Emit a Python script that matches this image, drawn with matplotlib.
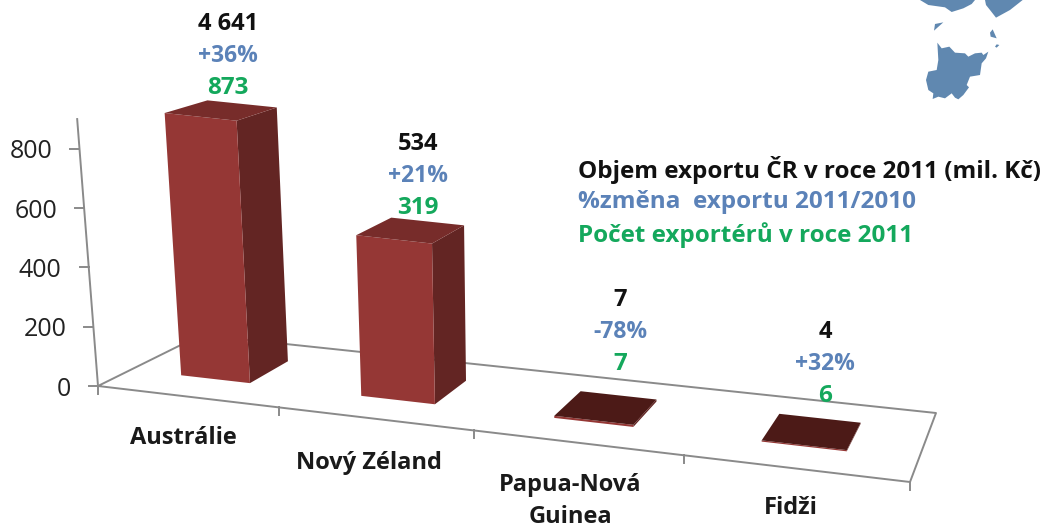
import numpy as np
import matplotlib
matplotlib.use('Agg')
import matplotlib.pyplot as plt
from matplotlib.patches import Polygon

# data
categories = ['Austrálie', 'Nový Zéland', 'Papua-Nová\nGuinea', 'Fidži']
bar_values = [873, 534, 7, 4]
export_labels = ['4 641', '534', '7', '4']
change_labels = ['+36%', '+21%', '-78%', '+32%']
exporter_labels = ['873', '319', '7', '6']
y_ticks = [0, 200, 400, 600, 800]
y_max = 900
legend_lines = ['Objem exportu ČR v roce 2011 (mil. Kč)',
                '%změna  exportu 2011/2010',
                'Počet exportérů v roce 2011']

# layout (pixels of the picture)
label_x = [228, 418, 620, 825]
label_y = [24, 144, 300, 332]
cat_xy = [(183, 438), (369, 463), (570, 501), (791, 508)]
top_colors = ['#772c2a', '#772c2a', '#4c1a17', '#4c1a17']

BLACK = '#111111'
BLUE = '#5b82b8'
GREEN = '#14a85c'
GREY = '#8a8a8a'
FONT = 'Open Sans'

# blue bits of the map in the corner
map_parts = [
    [(112,128),(125,145),(148,140),(165,158),(195,160),(205,170),(225,160),(245,158),(250,165),(265,155),
     (258,175),(245,190),(240,225),(210,230),(200,255),(207,262),(190,285),(175,298),(165,293),(155,280),
     (135,295),(115,290),(98,297),(100,280),(85,270),(78,240),(85,215),(110,210),(115,180)],
    [(60,0),(225,0),(215,12),(190,25),(155,36),(135,22),(85,15)],
    [(255,0),(368,0),(330,30),(288,53),(270,30),(258,15)],
    [(105,72),(130,67),(102,92)],
    [(278,88),(290,115),(272,110),(270,98)],
    [(290,133),(298,135),(290,143),(285,140)],
]

# floor corners for the fake 3d: (category pos, depth) -> pixel
floor_src = [(0, 0), (4, 0), (4, 1), (0, 1)]
floor_dst = [(98, 386), (910, 482), (936, 413), (201, 335)]
vanish = (536, 6000)
AXIS_K = 0.2975  # pixels per unit on the y axis
K_FRONT = 0.301
K_BACK = 0.291


def solve_homography(src, dst):
    a = []
    b = []
    for (u, v), (x, y) in zip(src, dst):
        a.append([u, v, 1, 0, 0, 0, -u * x, -v * x])
        a.append([0, 0, 0, u, v, 1, -u * y, -v * y])
        b += [x, y]
    h = np.linalg.solve(np.array(a, float), np.array(b, float))
    return np.append(h, 1).reshape(3, 3)


H = solve_homography(floor_src, floor_dst)


def project(u, d, value=0, k=AXIS_K):
    p = H @ np.array([u, d, 1.0])
    x, y = p[0] / p[2], p[1] / p[2]
    # bars lean a bit towards the vanishing point below the chart
    lift = value * k
    dirx, diry = x - vanish[0], y - vanish[1]
    n = np.hypot(dirx, diry)
    return x + lift * dirx / n, y + lift * diry / n


fig = plt.figure(figsize=(10.51, 5.28), dpi=100)
ax = fig.add_axes([0, 0, 1, 1])
ax.set_xlim(0, 1051)
ax.set_ylim(528, 0)
ax.axis('off')

# floor
outline = [project(*c) for c in floor_src]
outline.append(outline[0])
ax.plot(*zip(*outline), color=GREY, lw=1.4, zorder=1)

# x ticks
for i in range(5):
    x, y = project(i, 0)
    ax.plot([x, x], [y, y + 8], color=GREY, lw=1.4, zorder=1)

# y axis and ticks
ax.plot(*zip(project(0, 0), project(0, 0, y_max)), color=GREY, lw=1.4, zorder=1)
for t in y_ticks:
    x, y = project(0, 0, t)
    ax.plot([x - 9, x], [y, y], color=GREY, lw=1.4, zorder=1)
    ax.text(x - 27, y + 3, str(t), ha='right', va='center', fontsize=18, color='#222222', family=FONT)

# bars
BAR_W = 0.39
D0, D1 = 0.30, 0.71
for i, val in enumerate(bar_values):
    u0 = i + 0.5 - BAR_W / 2 - 0.015
    u1 = u0 + BAR_W
    front = [project(u0, D0), project(u1, D0), project(u1, D0, val, K_FRONT), project(u0, D0, val, K_FRONT)]
    side = [project(u1, D0), project(u1, D1), project(u1, D1, val, K_BACK), project(u1, D0, val, K_FRONT)]
    top = [project(u0, D0, val, K_FRONT), project(u1, D0, val, K_FRONT),
           project(u1, D1, val, K_BACK), project(u0, D1, val, K_BACK)]
    ax.add_patch(Polygon(side, closed=True, fc='#632523', ec='none', zorder=2))
    ax.add_patch(Polygon(front, closed=True, fc='#953735', ec='none', zorder=3))
    ax.add_patch(Polygon(top, closed=True, fc=top_colors[i], ec='none', zorder=4))

# three rows of labels over the bars
for i in range(len(categories)):
    x = label_x[i]
    y = label_y[i]
    ax.text(x, y, export_labels[i], ha='center', va='center', fontsize=17, weight='bold', color=BLACK, family=FONT, zorder=5)
    ax.text(x, y + 32, change_labels[i], ha='center', va='center', fontsize=16.5, color=BLUE, family=FONT, weight='bold', zorder=5)
    ax.text(x, y + 64, exporter_labels[i], ha='center', va='center', fontsize=17.5, weight='bold', color=GREEN, family=FONT, zorder=5)

# category names
for name, (x, y) in zip(categories, cat_xy):
    ax.text(x, y, name, ha='center', va='center', fontsize=17, weight='bold', color='#1a1a1a',
            family=FONT, linespacing=1.42)

# legend text
for line, y, col in zip(legend_lines, [170, 202, 235], [BLACK, BLUE, GREEN]):
    ax.text(578, y, line, ha='left', va='center', fontsize=17.5, weight='bold', color=col, family=FONT)

# map
for part in map_parts:
    pts = [(900 + px / 3, py / 3) for px, py in part]
    ax.add_patch(Polygon(pts, closed=True, fc='#6088b0', ec='none'))

fig.savefig('out.png', dpi=100)
